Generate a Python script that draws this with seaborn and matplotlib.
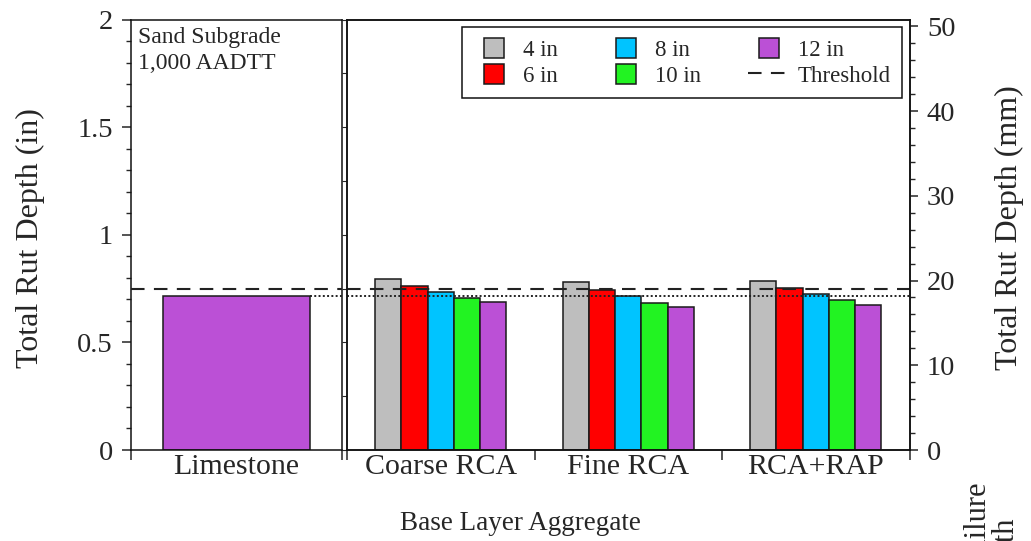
import numpy as np
import pandas as pd
import matplotlib
matplotlib.use("Agg")
import matplotlib.pyplot as plt
import matplotlib.patches as mpatches
from matplotlib.lines import Line2D
from matplotlib.legend_handler import HandlerPatch
from matplotlib.ticker import MultipleLocator, FixedLocator
import seaborn as sns

# Base layer aggregates and base thicknesses
control_aggregate = ["Limestone"]
recycled_aggregates = ["Coarse RCA", "Fine RCA", "RCA+RAP"]
thicknesses = ["4 in", "6 in", "8 in", "10 in", "12 in"]

# Total rut depth (in) of the 12 in limestone control section
limestone_rut = [0.716]

# Total rut depth (in) of the recycled aggregate sections, per base thickness
rut_4in = [0.794, 0.779, 0.785]
rut_6in = [0.762, 0.745, 0.753]
rut_8in = [0.733, 0.717, 0.725]
rut_10in = [0.707, 0.683, 0.696]
rut_12in = [0.687, 0.665, 0.675]

threshold_in = 0.75

y_ticks = [0, 0.5, 1, 1.5, 2]
y_tick_labels = ["0", "0.5", "1", "1.5", "2"]
mm_ticks = [0, 10, 20, 30, 40, 50]

palette = {"4 in": "#BEBEBE", "6 in": "#FF0000", "8 in": "#00C4FF",
           "10 in": "#22F322", "12 in": "#BB50D6"}

df_left = pd.DataFrame({"Aggregate": control_aggregate, "Rut": limestone_rut})
rut_by_thickness = [rut_4in, rut_6in, rut_8in, rut_10in, rut_12in]
df_right = pd.DataFrame(
    [(agg, t, vals[i])
     for t, vals in zip(thicknesses, rut_by_thickness)
     for i, agg in enumerate(recycled_aggregates)],
    columns=["Aggregate", "Thickness", "Rut"],
)

sns.set_style("ticks")
plt.rcParams["font.family"] = ["Liberation Serif", "DejaVu Serif"]
plt.rcParams["axes.linewidth"] = 1.1
plt.rcParams["axes.edgecolor"] = "#111111"

W, H = 1031, 541
fig = plt.figure(figsize=(W / 100, H / 100), dpi=100)


def px_box(x0, x1, y0, y1):
    return [x0 / W, 1 - y1 / H, (x1 - x0) / W, (y1 - y0) / H]


ax1 = fig.add_axes(px_box(131, 342, 19.5, 450))
ax2 = fig.add_axes(px_box(347, 909.5, 19.5, 450))

edge = "#1a1a1a"
sns.barplot(data=df_left, x="Aggregate", y="Rut", color=palette["12 in"],
            width=0.7, saturation=1, edgecolor=edge, linewidth=1.1,
            errorbar=None, ax=ax1)
sns.barplot(data=df_right, x="Aggregate", y="Rut", hue="Thickness",
            order=recycled_aggregates, hue_order=thicknesses, palette=palette,
            width=0.7, saturation=1, edgecolor=edge, linewidth=1.1,
            errorbar=None, legend=False, ax=ax2)

# threshold (dashed) and limestone reference level (dotted)
dash = dict(color="#222222", lw=1.5, dashes=(6.5, 4.5), zorder=5)
dot = dict(color="#222222", lw=1.4, dashes=(1, 1.2), zorder=5)
ax1.axhline(threshold_in, **dash)
ax2.axhline(threshold_in, **dash)
ax1.plot([0.35, 0.5], [limestone_rut[0]] * 2, **dot)
ax2.axhline(limestone_rut[0], **dot)

for ax, n in ((ax1, 1), (ax2, 3)):
    ax.set_xlim(-0.5, n - 0.5)
    ax.set_ylim(0, 2)
    ax.set_xlabel("")
    ax.set_ylabel("")
    ax.xaxis.set_major_locator(FixedLocator(np.arange(n + 1) - 0.5))
    ax.xaxis.set_major_formatter(plt.NullFormatter())
    ax.set_xticks(np.arange(n), labels=(control_aggregate if n == 1 else recycled_aggregates),
                  minor=True)
    ax.tick_params(axis="x", which="major", direction="out", length=7, width=1.1,
                   bottom=True, top=False)
    ax.tick_params(axis="x", which="minor", length=0, pad=3.0, labelsize=21.5)
    for s in ax.spines.values():
        s.set_visible(True)
        s.set_linewidth(1.1)

ax1.yaxis.set_major_locator(FixedLocator(y_ticks))
ax1.set_yticklabels(y_tick_labels)
ax1.yaxis.set_minor_locator(MultipleLocator(0.1))
ax1.tick_params(axis="y", which="major", direction="out", length=6.5, width=1.1,
                pad=6.5, labelsize=20.5, right=False)
ax1.tick_params(axis="y", which="minor", direction="out", length=3.6, width=1.0,
                right=False)

ax2.tick_params(axis="y", which="both", left=False, right=False,
                labelleft=False, labelright=False)

ax3 = ax2.twinx()
ax3.set_ylim(0, 2 * 25.4)
ax3.yaxis.set_major_locator(FixedLocator(mm_ticks))
ax3.yaxis.set_minor_locator(MultipleLocator(2))
ax3.tick_params(axis="y", which="major", direction="out", length=6, width=1.1,
                pad=6.5, labelsize=20.5)
ax3.tick_params(axis="y", which="minor", direction="out", length=3.6, width=1.0)
for s in ax3.spines.values():
    s.set_linewidth(1.1)

ax1.set_ylabel("Total Rut Depth (in)", fontsize=23)
ax1.yaxis.set_label_coords((45 - 131) / 211, (450 - 238.5) / 430.5)
ax3.set_ylabel("Total Rut Depth (mm)", fontsize=23)
ax3.yaxis.set_label_coords((994.7 - 347) / 562.5, (450 - 227.5) / 430.5)
ax2.set_xlabel("Base Layer Aggregate", fontsize=19.5)
ax2.xaxis.set_label_coords((520 - 347) / 562.5, (450 - 510.5) / 430.5)

ax1.text((138 - 131) / 211, (450 - 27.5) / 430.5, "Sand Subgrade\n1,000 AADTT",
         transform=ax1.transAxes, ha="left", va="top", fontsize=17,
         linespacing=1.3)

# second axis title, running off the lower edge
fig.text(985 / W, 1 - 482 / H, "Failure", rotation=90, rotation_mode="anchor",
         ha="right", va="baseline", fontsize=22)
fig.text(1013 / W, 1 - 517 / H, "Depth", rotation=90, rotation_mode="anchor",
         ha="right", va="baseline", fontsize=22)


def square_patch(legend, orig_handle, xdescent, ydescent, width, height, fontsize):
    s = height
    return mpatches.Rectangle((-xdescent + (width - s) / 2, -ydescent), s, s)


handles = [mpatches.Patch(facecolor=palette[t], edgecolor=edge, linewidth=1.1)
           for t in thicknesses]
handles.append(Line2D([], [], **{k: v for k, v in dash.items() if k != "zorder"}))
labels = thicknesses + ["Threshold"]
leg = ax3.legend(handles, labels, ncol=3, loc="upper right",
                 bbox_to_anchor=(902 / W, 1 - 27 / H), bbox_transform=fig.transFigure,
                 borderaxespad=0, fontsize=16.5, frameon=True, fancybox=False,
                 edgecolor="#111111", framealpha=1, handlelength=1.83,
                 handleheight=0.96, handletextpad=0.35, columnspacing=2.05,
                 labelspacing=0.14, borderpad=0.48,
                 handler_map={mpatches.Patch: HandlerPatch(patch_func=square_patch)})
leg.get_frame().set_linewidth(1.1)

fig.savefig("out.png", dpi=100)
